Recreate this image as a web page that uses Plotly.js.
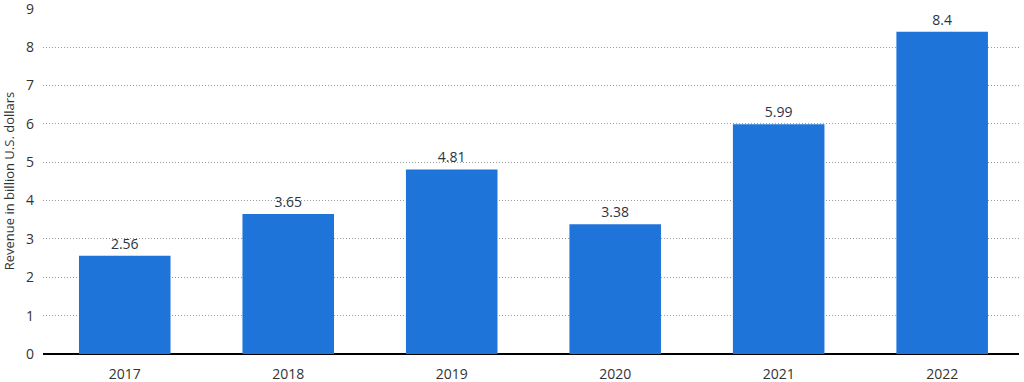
<!DOCTYPE html>
<html><head><meta charset="utf-8">
<script src="https://cdn.plot.ly/plotly-3.0.1.min.js"></script>
<style>html,body{margin:0;padding:0;background:#fff}#c{width:1024px;height:382px}</style>
</head><body><div id="c"></div>
<script>
const years = ["2017","2018","2019","2020","2021","2022"];
const revenue = [2.56, 3.65, 4.81, 3.38, 5.99, 8.4];
const labels = ["2.56","3.65","4.81","3.38","5.99","8.4"];
const yTicks = [0,1,2,3,4,5,6,7,8,9];

Plotly.newPlot('c', [{
  type: 'bar', x: years, y: revenue, text: labels, textposition: 'outside',
  cliponaxis: false,
  textfont: {family: 'Open Sans, sans-serif', size: 14, color: '#2b3440'},
  marker: {color: '#1f74d9', line: {width: 0}}, width: 0.56, hoverinfo: 'none'
}], {
  width: 1024, height: 382,
  margin: {l: 43, r: 5, t: 8, b: 28},
  paper_bgcolor: '#fff', plot_bgcolor: '#fff',
  font: {family: 'Open Sans, sans-serif', size: 14, color: '#333'},
  showlegend: false,
  xaxis: {type: 'category', range: [-0.5, 5.47], showgrid: false, zeroline: false,
    showline: false, ticks: '', ticklabelstandoff: 10, tickfont: {size: 14, color: '#333'}},
  yaxis: {range: [0, 9.02], tickvals: yTicks, ticktext: yTicks.map(String),
    showgrid: true, gridcolor: '#9a9a9a', griddash: '1px,2px', gridwidth: 1,
    zeroline: true, zerolinecolor: '#000', zerolinewidth: 2, ticklabeloverflow: 'allow',
    showline: false, ticks: '', ticklen: 0, ticklabelstandoff: 8, tickfont: {size: 14, color: '#333'},
    title: {text: 'Revenue in billion U.S. dollars', font: {size: 13, color: '#333'}, standoff: 10}},
  bargap: 0.44
}, {staticPlot: true});
</script></body></html>
